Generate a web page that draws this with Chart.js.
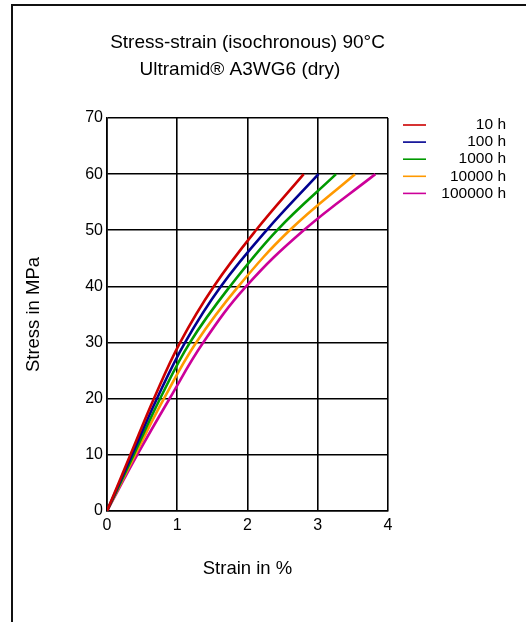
<!DOCTYPE html>
<html>
<head>
<meta charset="utf-8">
<script src="https://cdn.jsdelivr.net/npm/chart.js@4"></script>
<style>
  html, body { margin: 0; padding: 0; background: #fff; }
  #wrap { position: relative; width: 526px; height: 622px; }
  #frame { position: absolute; left: 11px; top: 4px; width: 600px; height: 700px;
           border-top: 2px solid #111; border-left: 2px solid #111; }
</style>
</head>
<body>
<div id="wrap">
  <div id="frame"></div>
  <canvas id="chart"></canvas>
</div>
<script>
// stress levels (MPa) the curves were read at
const stressMPa = [0, 10, 20, 30, 40, 50, 60];

// strain in % at each stress level, per load duration
const strain10h     = [0, 0.333, 0.667, 1.04, 1.52, 2.12, 2.80];
const strain100h    = [0, 0.355, 0.71, 1.11, 1.62, 2.27, 3.01];
const strain1000h   = [0, 0.38, 0.755, 1.18, 1.75, 2.42, 3.26];
const strain10000h  = [0, 0.40, 0.81, 1.27, 1.87, 2.60, 3.53];
const strain100000h = [0, 0.43, 0.89, 1.37, 1.98, 2.80, 3.82];

const seriesLabels = ['10 h', '100 h', '1000 h', '10000 h', '100000 h'];
const seriesColors = ['#cc0000', '#000090', '#009900', '#ff9900', '#cc0099'];

const titleLines = ['Stress-strain (isochronous) 90°C', 'Ultramid® A3WG6 (dry)'];

Chart.defaults.font.family = '"Liberation Sans", Arial, sans-serif';
Chart.defaults.color = '#000';

const allStrains = [strain10h, strain100h, strain1000h, strain10000h, strain100000h];

const datasets = allStrains.map((s, i) => ({
  label: seriesLabels[i],
  data: s.map((x, k) => ({ x: x, y: stressMPa[k] })),
  borderColor: seriesColors[i],
  backgroundColor: seriesColors[i],
  borderWidth: 2.6,
  pointRadius: 0,
  showLine: true,
  tension: 0.4,
}));

// draws the two title lines and the right-aligned legend
const decorations = {
  id: 'decorations',
  afterDraw(chart) {
    const ctx = chart.ctx;
    const area = chart.chartArea;
    ctx.save();
    ctx.fillStyle = '#000';
    ctx.textBaseline = 'middle';
    ctx.textAlign = 'center';
    ctx.font = '19px "Liberation Sans", Arial, sans-serif';
    ctx.fillText(titleLines[0], 247.5, 43);
    ctx.fillText(titleLines[1], 240, 70);

    ctx.font = '15.5px "Liberation Sans", Arial, sans-serif';
    ctx.textAlign = 'right';
    chart.data.datasets.forEach((ds, i) => {
      const y = area.top + 7 + i * 17.1;
      ctx.strokeStyle = ds.borderColor;
      ctx.lineWidth = 1.6;
      ctx.beginPath();
      ctx.moveTo(area.right + 15, y);
      ctx.lineTo(area.right + 38, y);
      ctx.stroke();
      ctx.fillText(ds.label, 506, y);
    });
    ctx.restore();
  }
};

new Chart(document.getElementById('chart'), {
  type: 'scatter',
  data: { datasets: datasets },
  options: {
    responsive: true,
    maintainAspectRatio: false,
    animation: false,
    layout: { padding: { left: 0, top: 118, right: 138, bottom: 0 } },
    plugins: {
      legend: { display: false },
      tooltip: { enabled: false },
    },
    scales: {
      x: {
        type: 'linear',
        min: 0,
        max: 4,
        ticks: { stepSize: 1, padding: 5, font: { size: 16 } },
        grid: { color: '#000', lineWidth: 1.6, drawTicks: false },
        border: { color: '#000', width: 1.6 },
        title: { display: true, text: 'Strain in %', font: { size: 18.5 }, padding: { top: 0, bottom: 42 } },
        afterFit(scale) { scale.height = 111; },
      },
      y: {
        min: 0,
        max: 70,
        ticks: { stepSize: 10, padding: 4, font: { size: 16 } },
        grid: { color: '#000', lineWidth: 1.6, drawTicks: false },
        border: { color: '#000', width: 1.6 },
        title: { display: true, text: 'Stress in MPa', font: { size: 18.5 }, padding: { top: 23, bottom: 0 } },
        afterFit(scale) { scale.width = 107; },
      },
    },
  },
  plugins: [decorations],
});
</script>
</body>
</html>
